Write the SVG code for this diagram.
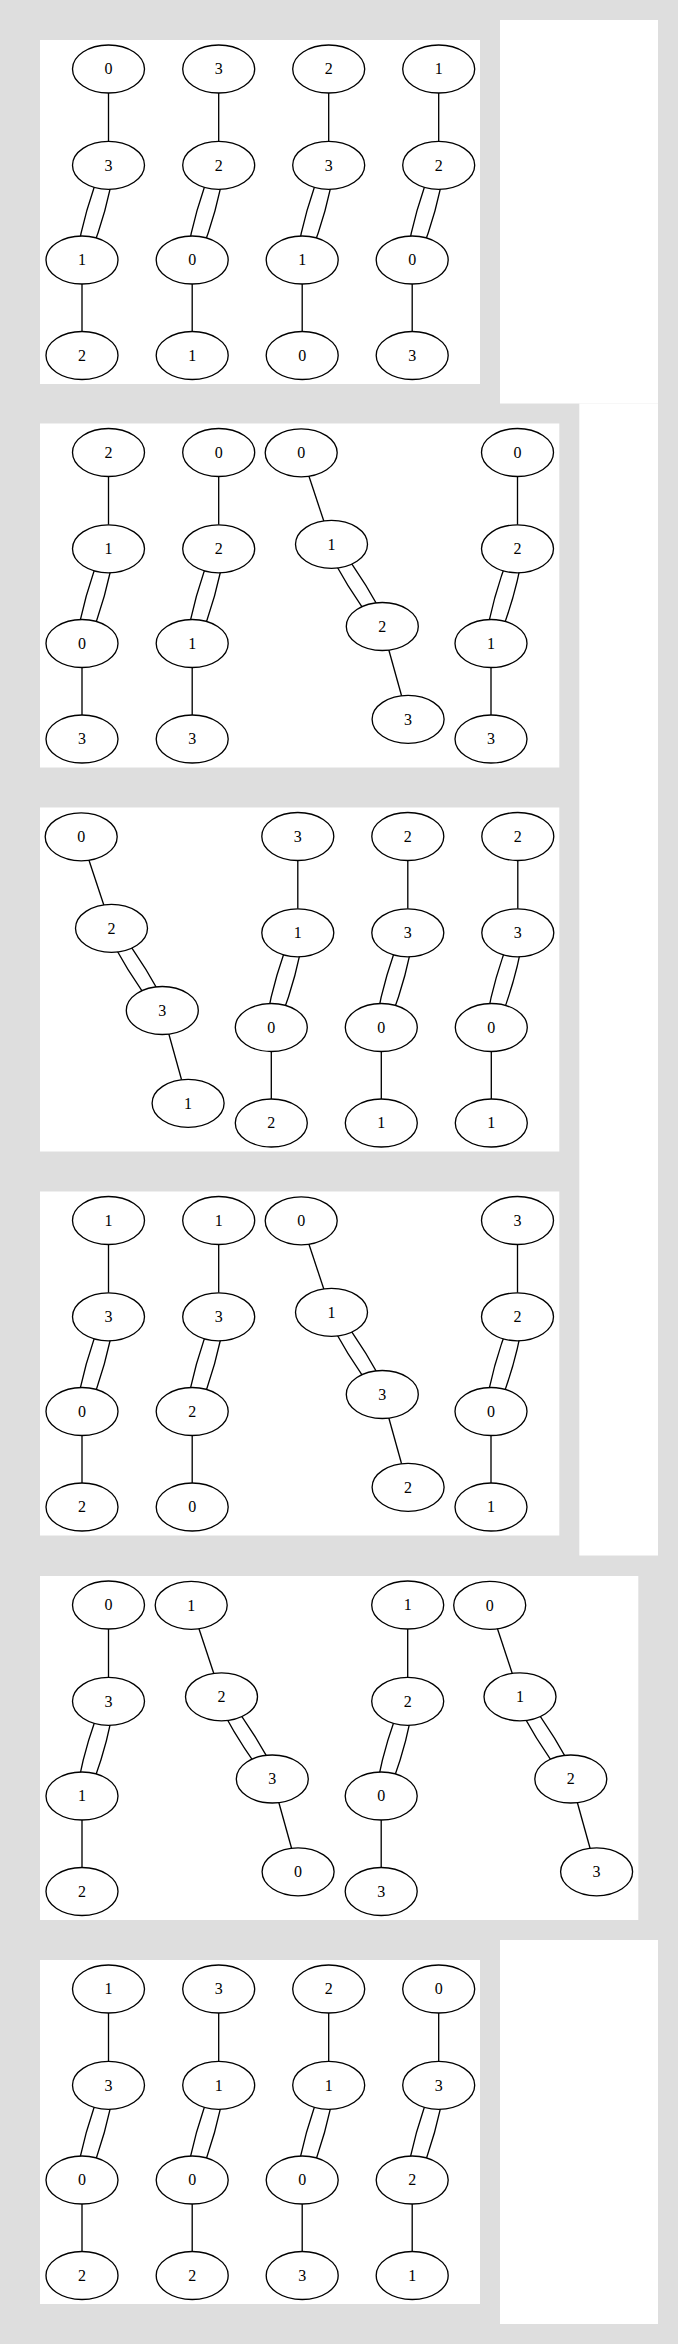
<svg xmlns="http://www.w3.org/2000/svg" width="678" height="2344" viewBox="0 0 678 2344">
<style>
.bg{fill:#dedede}
.cl{fill:#ffffff}
.e{fill:none;stroke:#000;stroke-width:1.33}
.n ellipse{fill:#fff;stroke:#000;stroke-width:1.33}
.n text{font-family:"Liberation Serif","Times New Roman",serif;font-size:16px;text-anchor:middle;fill:#000}
</style>
<rect class="bg" x="0" y="0" width="678" height="2344"/>
<g id="clusters">
<rect class="cl" x="500" y="20" width="158" height="383.5"/>
<rect class="cl" x="579.3" y="403.5" width="78.7" height="1152"/>
<rect class="cl" x="500" y="1940" width="158" height="384"/>
<rect class="cl" x="40" y="40" width="440" height="344"/>
<rect class="cl" x="40" y="423.5" width="519.3" height="344"/>
<rect class="cl" x="40" y="807.5" width="519.3" height="344"/>
<rect class="cl" x="40" y="1191.5" width="519.3" height="344"/>
<rect class="cl" x="40" y="1576" width="598.3" height="344"/>
<rect class="cl" x="40" y="1960" width="440" height="344"/>
</g>
<g id="connectors">
<g transform="translate(108.5,40)"><path class="e" d="M0,53V101.3"/><path class="e" d="M-6,125.3C-18.83,156.87 -27.67,188.43 -32.5,220"/><path class="e" d="M6,125.3C1.17,156.87 -7.67,188.43 -20.5,220"/><path class="e" d="M-26.5,244V291.5"/></g>
<g transform="translate(218.7,40)"><path class="e" d="M0,53V101.3"/><path class="e" d="M-6,125.3C-18.83,156.87 -27.67,188.43 -32.5,220"/><path class="e" d="M6,125.3C1.17,156.87 -7.67,188.43 -20.5,220"/><path class="e" d="M-26.5,244V291.5"/></g>
<g transform="translate(328.7,40)"><path class="e" d="M0,53V101.3"/><path class="e" d="M-6,125.3C-18.83,156.87 -27.67,188.43 -32.5,220"/><path class="e" d="M6,125.3C1.17,156.87 -7.67,188.43 -20.5,220"/><path class="e" d="M-26.5,244V291.5"/></g>
<g transform="translate(438.7,40)"><path class="e" d="M0,53V101.3"/><path class="e" d="M-6,125.3C-18.83,156.87 -27.67,188.43 -32.5,220"/><path class="e" d="M6,125.3C1.17,156.87 -7.67,188.43 -20.5,220"/><path class="e" d="M-26.5,244V291.5"/></g>

<g transform="translate(108.5,423.5)"><path class="e" d="M0,53V101.3"/><path class="e" d="M-6,125.3C-18.83,156.87 -27.67,188.43 -32.5,220"/><path class="e" d="M6,125.3C1.17,156.87 -7.67,188.43 -20.5,220"/><path class="e" d="M-26.5,244V291.5"/></g>
<g transform="translate(218.7,423.5)"><path class="e" d="M0,53V101.3"/><path class="e" d="M-6,125.3C-18.83,156.87 -27.67,188.43 -32.5,220"/><path class="e" d="M6,125.3C1.17,156.87 -7.67,188.43 -20.5,220"/><path class="e" d="M-26.5,244V291.5"/></g>
<g transform="translate(301.2,423.5)"><path class="e" d="M0,29.3L30.3,120.8"/><path class="e" d="M24.3,120.8C37.23,148.2 54.17,175.6 75.1,203"/><path class="e" d="M36.3,120.8C57.23,148.2 74.17,175.6 87.1,203"/><path class="e" d="M81.1,203L106.9,295.8"/></g>
<g transform="translate(517.5,423.5)"><path class="e" d="M0,53V101.3"/><path class="e" d="M-6,125.3C-18.83,156.87 -27.67,188.43 -32.5,220"/><path class="e" d="M6,125.3C1.17,156.87 -7.67,188.43 -20.5,220"/><path class="e" d="M-26.5,244V291.5"/></g>

<g transform="translate(81.2,807.5)"><path class="e" d="M0,29.3L30.3,120.8"/><path class="e" d="M24.3,120.8C37.23,148.2 54.17,175.6 75.1,203"/><path class="e" d="M36.3,120.8C57.23,148.2 74.17,175.6 87.1,203"/><path class="e" d="M81.1,203L106.9,295.8"/></g>
<g transform="translate(297.8,807.5)"><path class="e" d="M0,53V101.3"/><path class="e" d="M-6,125.3C-18.83,156.87 -27.67,188.43 -32.5,220"/><path class="e" d="M6,125.3C1.17,156.87 -7.67,188.43 -20.5,220"/><path class="e" d="M-26.5,244V291.5"/></g>
<g transform="translate(407.8,807.5)"><path class="e" d="M0,53V101.3"/><path class="e" d="M-6,125.3C-18.83,156.87 -27.67,188.43 -32.5,220"/><path class="e" d="M6,125.3C1.17,156.87 -7.67,188.43 -20.5,220"/><path class="e" d="M-26.5,244V291.5"/></g>
<g transform="translate(517.8,807.5)"><path class="e" d="M0,53V101.3"/><path class="e" d="M-6,125.3C-18.83,156.87 -27.67,188.43 -32.5,220"/><path class="e" d="M6,125.3C1.17,156.87 -7.67,188.43 -20.5,220"/><path class="e" d="M-26.5,244V291.5"/></g>

<g transform="translate(108.5,1191.5)"><path class="e" d="M0,53V101.3"/><path class="e" d="M-6,125.3C-18.83,156.87 -27.67,188.43 -32.5,220"/><path class="e" d="M6,125.3C1.17,156.87 -7.67,188.43 -20.5,220"/><path class="e" d="M-26.5,244V291.5"/></g>
<g transform="translate(218.7,1191.5)"><path class="e" d="M0,53V101.3"/><path class="e" d="M-6,125.3C-18.83,156.87 -27.67,188.43 -32.5,220"/><path class="e" d="M6,125.3C1.17,156.87 -7.67,188.43 -20.5,220"/><path class="e" d="M-26.5,244V291.5"/></g>
<g transform="translate(301.2,1191.5)"><path class="e" d="M0,29.3L30.3,120.8"/><path class="e" d="M24.3,120.8C37.23,148.2 54.17,175.6 75.1,203"/><path class="e" d="M36.3,120.8C57.23,148.2 74.17,175.6 87.1,203"/><path class="e" d="M81.1,203L106.9,295.8"/></g>
<g transform="translate(517.5,1191.5)"><path class="e" d="M0,53V101.3"/><path class="e" d="M-6,125.3C-18.83,156.87 -27.67,188.43 -32.5,220"/><path class="e" d="M6,125.3C1.17,156.87 -7.67,188.43 -20.5,220"/><path class="e" d="M-26.5,244V291.5"/></g>

<g transform="translate(108.5,1576)"><path class="e" d="M0,53V101.3"/><path class="e" d="M-6,125.3C-18.83,156.87 -27.67,188.43 -32.5,220"/><path class="e" d="M6,125.3C1.17,156.87 -7.67,188.43 -20.5,220"/><path class="e" d="M-26.5,244V291.5"/></g>
<g transform="translate(191.2,1576)"><path class="e" d="M0,29.3L30.3,120.8"/><path class="e" d="M24.3,120.8C37.23,148.2 54.17,175.6 75.1,203"/><path class="e" d="M36.3,120.8C57.23,148.2 74.17,175.6 87.1,203"/><path class="e" d="M81.1,203L106.9,295.8"/></g>
<g transform="translate(407.7,1576)"><path class="e" d="M0,53V101.3"/><path class="e" d="M-6,125.3C-18.83,156.87 -27.67,188.43 -32.5,220"/><path class="e" d="M6,125.3C1.17,156.87 -7.67,188.43 -20.5,220"/><path class="e" d="M-26.5,244V291.5"/></g>
<g transform="translate(489.7,1576)"><path class="e" d="M0,29.3L30.3,120.8"/><path class="e" d="M24.3,120.8C37.23,148.2 54.17,175.6 75.1,203"/><path class="e" d="M36.3,120.8C57.23,148.2 74.17,175.6 87.1,203"/><path class="e" d="M81.1,203L106.9,295.8"/></g>

<g transform="translate(108.5,1960)"><path class="e" d="M0,53V101.3"/><path class="e" d="M-6,125.3C-18.83,156.87 -27.67,188.43 -32.5,220"/><path class="e" d="M6,125.3C1.17,156.87 -7.67,188.43 -20.5,220"/><path class="e" d="M-26.5,244V291.5"/></g>
<g transform="translate(218.7,1960)"><path class="e" d="M0,53V101.3"/><path class="e" d="M-6,125.3C-18.83,156.87 -27.67,188.43 -32.5,220"/><path class="e" d="M6,125.3C1.17,156.87 -7.67,188.43 -20.5,220"/><path class="e" d="M-26.5,244V291.5"/></g>
<g transform="translate(328.7,1960)"><path class="e" d="M0,53V101.3"/><path class="e" d="M-6,125.3C-18.83,156.87 -27.67,188.43 -32.5,220"/><path class="e" d="M6,125.3C1.17,156.87 -7.67,188.43 -20.5,220"/><path class="e" d="M-26.5,244V291.5"/></g>
<g transform="translate(438.7,1960)"><path class="e" d="M0,53V101.3"/><path class="e" d="M-6,125.3C-18.83,156.87 -27.67,188.43 -32.5,220"/><path class="e" d="M6,125.3C1.17,156.87 -7.67,188.43 -20.5,220"/><path class="e" d="M-26.5,244V291.5"/></g>
</g>
<g id="nodes">
<g id="p1c1" transform="translate(108.5,40)">
<g id="p1c1n0" class="n" transform="translate(0,29)"><ellipse rx="36" ry="24"/><text y="5.3">0</text></g>
<g id="p1c1n1" class="n" transform="translate(0,125.3)"><ellipse rx="36" ry="24"/><text y="5.3">3</text></g>
<g id="p1c1n2" class="n" transform="translate(-26.5,220)"><ellipse rx="36" ry="24"/><text y="5.3">1</text></g>
<g id="p1c1n3" class="n" transform="translate(-26.5,315.5)"><ellipse rx="36" ry="24"/><text y="5.3">2</text></g>
</g>
<g id="p1c2" transform="translate(218.7,40)">
<g id="p1c2n0" class="n" transform="translate(0,29)"><ellipse rx="36" ry="24"/><text y="5.3">3</text></g>
<g id="p1c2n1" class="n" transform="translate(0,125.3)"><ellipse rx="36" ry="24"/><text y="5.3">2</text></g>
<g id="p1c2n2" class="n" transform="translate(-26.5,220)"><ellipse rx="36" ry="24"/><text y="5.3">0</text></g>
<g id="p1c2n3" class="n" transform="translate(-26.5,315.5)"><ellipse rx="36" ry="24"/><text y="5.3">1</text></g>
</g>
<g id="p1c3" transform="translate(328.7,40)">
<g id="p1c3n0" class="n" transform="translate(0,29)"><ellipse rx="36" ry="24"/><text y="5.3">2</text></g>
<g id="p1c3n1" class="n" transform="translate(0,125.3)"><ellipse rx="36" ry="24"/><text y="5.3">3</text></g>
<g id="p1c3n2" class="n" transform="translate(-26.5,220)"><ellipse rx="36" ry="24"/><text y="5.3">1</text></g>
<g id="p1c3n3" class="n" transform="translate(-26.5,315.5)"><ellipse rx="36" ry="24"/><text y="5.3">0</text></g>
</g>
<g id="p1c4" transform="translate(438.7,40)">
<g id="p1c4n0" class="n" transform="translate(0,29)"><ellipse rx="36" ry="24"/><text y="5.3">1</text></g>
<g id="p1c4n1" class="n" transform="translate(0,125.3)"><ellipse rx="36" ry="24"/><text y="5.3">2</text></g>
<g id="p1c4n2" class="n" transform="translate(-26.5,220)"><ellipse rx="36" ry="24"/><text y="5.3">0</text></g>
<g id="p1c4n3" class="n" transform="translate(-26.5,315.5)"><ellipse rx="36" ry="24"/><text y="5.3">3</text></g>
</g>
<g id="p2c1" transform="translate(108.5,423.5)">
<g id="p2c1n0" class="n" transform="translate(0,29)"><ellipse rx="36" ry="24"/><text y="5.3">2</text></g>
<g id="p2c1n1" class="n" transform="translate(0,125.3)"><ellipse rx="36" ry="24"/><text y="5.3">1</text></g>
<g id="p2c1n2" class="n" transform="translate(-26.5,220)"><ellipse rx="36" ry="24"/><text y="5.3">0</text></g>
<g id="p2c1n3" class="n" transform="translate(-26.5,315.5)"><ellipse rx="36" ry="24"/><text y="5.3">3</text></g>
</g>
<g id="p2c2" transform="translate(218.7,423.5)">
<g id="p2c2n0" class="n" transform="translate(0,29)"><ellipse rx="36" ry="24"/><text y="5.3">0</text></g>
<g id="p2c2n1" class="n" transform="translate(0,125.3)"><ellipse rx="36" ry="24"/><text y="5.3">2</text></g>
<g id="p2c2n2" class="n" transform="translate(-26.5,220)"><ellipse rx="36" ry="24"/><text y="5.3">1</text></g>
<g id="p2c2n3" class="n" transform="translate(-26.5,315.5)"><ellipse rx="36" ry="24"/><text y="5.3">3</text></g>
</g>
<g id="p2c3" transform="translate(301.2,423.5)">
<g id="p2c3n0" class="n" transform="translate(0,29.3)"><ellipse rx="36" ry="24"/><text y="5.3">0</text></g>
<g id="p2c3n1" class="n" transform="translate(30.3,120.8)"><ellipse rx="36" ry="24"/><text y="5.3">1</text></g>
<g id="p2c3n2" class="n" transform="translate(81.1,203)"><ellipse rx="36" ry="24"/><text y="5.3">2</text></g>
<g id="p2c3n3" class="n" transform="translate(106.9,295.8)"><ellipse rx="36" ry="24"/><text y="5.3">3</text></g>
</g>
<g id="p2c4" transform="translate(517.5,423.5)">
<g id="p2c4n0" class="n" transform="translate(0,29)"><ellipse rx="36" ry="24"/><text y="5.3">0</text></g>
<g id="p2c4n1" class="n" transform="translate(0,125.3)"><ellipse rx="36" ry="24"/><text y="5.3">2</text></g>
<g id="p2c4n2" class="n" transform="translate(-26.5,220)"><ellipse rx="36" ry="24"/><text y="5.3">1</text></g>
<g id="p2c4n3" class="n" transform="translate(-26.5,315.5)"><ellipse rx="36" ry="24"/><text y="5.3">3</text></g>
</g>
<g id="p3c1" transform="translate(81.2,807.5)">
<g id="p3c1n0" class="n" transform="translate(0,29.3)"><ellipse rx="36" ry="24"/><text y="5.3">0</text></g>
<g id="p3c1n1" class="n" transform="translate(30.3,120.8)"><ellipse rx="36" ry="24"/><text y="5.3">2</text></g>
<g id="p3c1n2" class="n" transform="translate(81.1,203)"><ellipse rx="36" ry="24"/><text y="5.3">3</text></g>
<g id="p3c1n3" class="n" transform="translate(106.9,295.8)"><ellipse rx="36" ry="24"/><text y="5.3">1</text></g>
</g>
<g id="p3c2" transform="translate(297.8,807.5)">
<g id="p3c2n0" class="n" transform="translate(0,29)"><ellipse rx="36" ry="24"/><text y="5.3">3</text></g>
<g id="p3c2n1" class="n" transform="translate(0,125.3)"><ellipse rx="36" ry="24"/><text y="5.3">1</text></g>
<g id="p3c2n2" class="n" transform="translate(-26.5,220)"><ellipse rx="36" ry="24"/><text y="5.3">0</text></g>
<g id="p3c2n3" class="n" transform="translate(-26.5,315.5)"><ellipse rx="36" ry="24"/><text y="5.3">2</text></g>
</g>
<g id="p3c3" transform="translate(407.8,807.5)">
<g id="p3c3n0" class="n" transform="translate(0,29)"><ellipse rx="36" ry="24"/><text y="5.3">2</text></g>
<g id="p3c3n1" class="n" transform="translate(0,125.3)"><ellipse rx="36" ry="24"/><text y="5.3">3</text></g>
<g id="p3c3n2" class="n" transform="translate(-26.5,220)"><ellipse rx="36" ry="24"/><text y="5.3">0</text></g>
<g id="p3c3n3" class="n" transform="translate(-26.5,315.5)"><ellipse rx="36" ry="24"/><text y="5.3">1</text></g>
</g>
<g id="p3c4" transform="translate(517.8,807.5)">
<g id="p3c4n0" class="n" transform="translate(0,29)"><ellipse rx="36" ry="24"/><text y="5.3">2</text></g>
<g id="p3c4n1" class="n" transform="translate(0,125.3)"><ellipse rx="36" ry="24"/><text y="5.3">3</text></g>
<g id="p3c4n2" class="n" transform="translate(-26.5,220)"><ellipse rx="36" ry="24"/><text y="5.3">0</text></g>
<g id="p3c4n3" class="n" transform="translate(-26.5,315.5)"><ellipse rx="36" ry="24"/><text y="5.3">1</text></g>
</g>
<g id="p4c1" transform="translate(108.5,1191.5)">
<g id="p4c1n0" class="n" transform="translate(0,29)"><ellipse rx="36" ry="24"/><text y="5.3">1</text></g>
<g id="p4c1n1" class="n" transform="translate(0,125.3)"><ellipse rx="36" ry="24"/><text y="5.3">3</text></g>
<g id="p4c1n2" class="n" transform="translate(-26.5,220)"><ellipse rx="36" ry="24"/><text y="5.3">0</text></g>
<g id="p4c1n3" class="n" transform="translate(-26.5,315.5)"><ellipse rx="36" ry="24"/><text y="5.3">2</text></g>
</g>
<g id="p4c2" transform="translate(218.7,1191.5)">
<g id="p4c2n0" class="n" transform="translate(0,29)"><ellipse rx="36" ry="24"/><text y="5.3">1</text></g>
<g id="p4c2n1" class="n" transform="translate(0,125.3)"><ellipse rx="36" ry="24"/><text y="5.3">3</text></g>
<g id="p4c2n2" class="n" transform="translate(-26.5,220)"><ellipse rx="36" ry="24"/><text y="5.3">2</text></g>
<g id="p4c2n3" class="n" transform="translate(-26.5,315.5)"><ellipse rx="36" ry="24"/><text y="5.3">0</text></g>
</g>
<g id="p4c3" transform="translate(301.2,1191.5)">
<g id="p4c3n0" class="n" transform="translate(0,29.3)"><ellipse rx="36" ry="24"/><text y="5.3">0</text></g>
<g id="p4c3n1" class="n" transform="translate(30.3,120.8)"><ellipse rx="36" ry="24"/><text y="5.3">1</text></g>
<g id="p4c3n2" class="n" transform="translate(81.1,203)"><ellipse rx="36" ry="24"/><text y="5.3">3</text></g>
<g id="p4c3n3" class="n" transform="translate(106.9,295.8)"><ellipse rx="36" ry="24"/><text y="5.3">2</text></g>
</g>
<g id="p4c4" transform="translate(517.5,1191.5)">
<g id="p4c4n0" class="n" transform="translate(0,29)"><ellipse rx="36" ry="24"/><text y="5.3">3</text></g>
<g id="p4c4n1" class="n" transform="translate(0,125.3)"><ellipse rx="36" ry="24"/><text y="5.3">2</text></g>
<g id="p4c4n2" class="n" transform="translate(-26.5,220)"><ellipse rx="36" ry="24"/><text y="5.3">0</text></g>
<g id="p4c4n3" class="n" transform="translate(-26.5,315.5)"><ellipse rx="36" ry="24"/><text y="5.3">1</text></g>
</g>
<g id="p5c1" transform="translate(108.5,1576)">
<g id="p5c1n0" class="n" transform="translate(0,29)"><ellipse rx="36" ry="24"/><text y="5.3">0</text></g>
<g id="p5c1n1" class="n" transform="translate(0,125.3)"><ellipse rx="36" ry="24"/><text y="5.3">3</text></g>
<g id="p5c1n2" class="n" transform="translate(-26.5,220)"><ellipse rx="36" ry="24"/><text y="5.3">1</text></g>
<g id="p5c1n3" class="n" transform="translate(-26.5,315.5)"><ellipse rx="36" ry="24"/><text y="5.3">2</text></g>
</g>
<g id="p5c2" transform="translate(191.2,1576)">
<g id="p5c2n0" class="n" transform="translate(0,29.3)"><ellipse rx="36" ry="24"/><text y="5.3">1</text></g>
<g id="p5c2n1" class="n" transform="translate(30.3,120.8)"><ellipse rx="36" ry="24"/><text y="5.3">2</text></g>
<g id="p5c2n2" class="n" transform="translate(81.1,203)"><ellipse rx="36" ry="24"/><text y="5.3">3</text></g>
<g id="p5c2n3" class="n" transform="translate(106.9,295.8)"><ellipse rx="36" ry="24"/><text y="5.3">0</text></g>
</g>
<g id="p5c3" transform="translate(407.7,1576)">
<g id="p5c3n0" class="n" transform="translate(0,29)"><ellipse rx="36" ry="24"/><text y="5.3">1</text></g>
<g id="p5c3n1" class="n" transform="translate(0,125.3)"><ellipse rx="36" ry="24"/><text y="5.3">2</text></g>
<g id="p5c3n2" class="n" transform="translate(-26.5,220)"><ellipse rx="36" ry="24"/><text y="5.3">0</text></g>
<g id="p5c3n3" class="n" transform="translate(-26.5,315.5)"><ellipse rx="36" ry="24"/><text y="5.3">3</text></g>
</g>
<g id="p5c4" transform="translate(489.7,1576)">
<g id="p5c4n0" class="n" transform="translate(0,29.3)"><ellipse rx="36" ry="24"/><text y="5.3">0</text></g>
<g id="p5c4n1" class="n" transform="translate(30.3,120.8)"><ellipse rx="36" ry="24"/><text y="5.3">1</text></g>
<g id="p5c4n2" class="n" transform="translate(81.1,203)"><ellipse rx="36" ry="24"/><text y="5.3">2</text></g>
<g id="p5c4n3" class="n" transform="translate(106.9,295.8)"><ellipse rx="36" ry="24"/><text y="5.3">3</text></g>
</g>
<g id="p6c1" transform="translate(108.5,1960)">
<g id="p6c1n0" class="n" transform="translate(0,29)"><ellipse rx="36" ry="24"/><text y="5.3">1</text></g>
<g id="p6c1n1" class="n" transform="translate(0,125.3)"><ellipse rx="36" ry="24"/><text y="5.3">3</text></g>
<g id="p6c1n2" class="n" transform="translate(-26.5,220)"><ellipse rx="36" ry="24"/><text y="5.3">0</text></g>
<g id="p6c1n3" class="n" transform="translate(-26.5,315.5)"><ellipse rx="36" ry="24"/><text y="5.3">2</text></g>
</g>
<g id="p6c2" transform="translate(218.7,1960)">
<g id="p6c2n0" class="n" transform="translate(0,29)"><ellipse rx="36" ry="24"/><text y="5.3">3</text></g>
<g id="p6c2n1" class="n" transform="translate(0,125.3)"><ellipse rx="36" ry="24"/><text y="5.3">1</text></g>
<g id="p6c2n2" class="n" transform="translate(-26.5,220)"><ellipse rx="36" ry="24"/><text y="5.3">0</text></g>
<g id="p6c2n3" class="n" transform="translate(-26.5,315.5)"><ellipse rx="36" ry="24"/><text y="5.3">2</text></g>
</g>
<g id="p6c3" transform="translate(328.7,1960)">
<g id="p6c3n0" class="n" transform="translate(0,29)"><ellipse rx="36" ry="24"/><text y="5.3">2</text></g>
<g id="p6c3n1" class="n" transform="translate(0,125.3)"><ellipse rx="36" ry="24"/><text y="5.3">1</text></g>
<g id="p6c3n2" class="n" transform="translate(-26.5,220)"><ellipse rx="36" ry="24"/><text y="5.3">0</text></g>
<g id="p6c3n3" class="n" transform="translate(-26.5,315.5)"><ellipse rx="36" ry="24"/><text y="5.3">3</text></g>
</g>
<g id="p6c4" transform="translate(438.7,1960)">
<g id="p6c4n0" class="n" transform="translate(0,29)"><ellipse rx="36" ry="24"/><text y="5.3">0</text></g>
<g id="p6c4n1" class="n" transform="translate(0,125.3)"><ellipse rx="36" ry="24"/><text y="5.3">3</text></g>
<g id="p6c4n2" class="n" transform="translate(-26.5,220)"><ellipse rx="36" ry="24"/><text y="5.3">2</text></g>
<g id="p6c4n3" class="n" transform="translate(-26.5,315.5)"><ellipse rx="36" ry="24"/><text y="5.3">1</text></g>
</g>
</g>
</svg>
